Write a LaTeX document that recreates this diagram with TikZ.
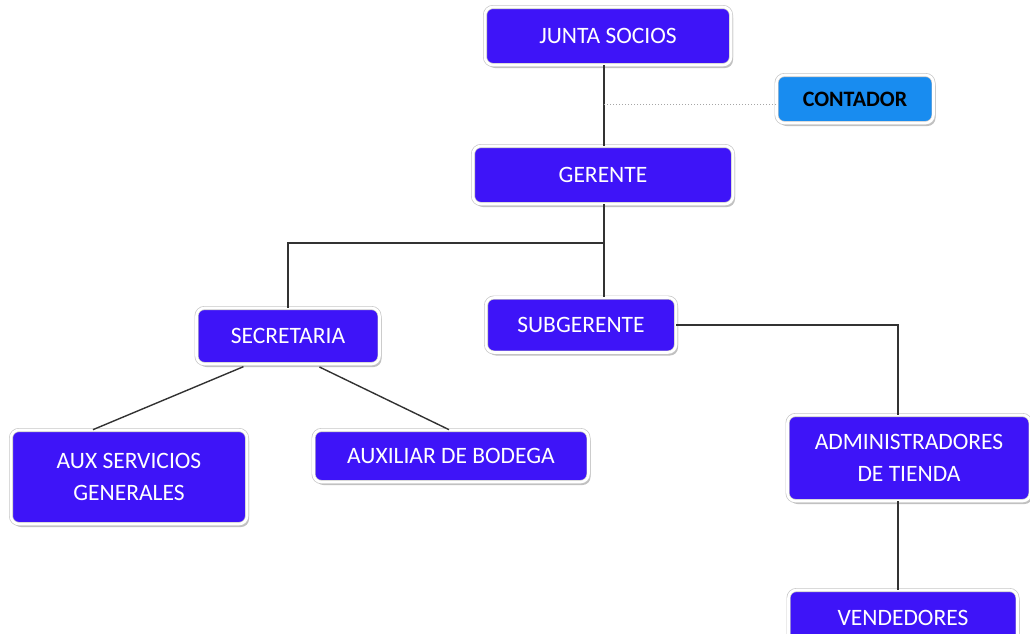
\documentclass[tikz,border=0pt]{standalone}
\usepackage{fontspec}
\setmainfont{Carlito}
\usetikzlibrary{shadows}
\definecolor{boxblue}{RGB}{62,20,248}
\definecolor{lightblue}{RGB}{24,140,240}
\definecolor{wire}{RGB}{50,50,50}
\begin{document}
\begin{tikzpicture}[x=1pt,y=-1pt,
  orgbox/.style={rectangle, rounded corners=8pt, fill=boxblue,
    draw=black!22, line width=0.7pt, double=white, double distance=2.6pt,
    inner sep=0pt,
    text=white, font=\fontsize{23.5}{32}\selectfont, align=center,
    drop shadow={shadow xshift=2pt, shadow yshift=-3pt, fill=black!45, opacity=.55}},
  accbox/.style={orgbox, fill=lightblue, text=black, font=\fontsize{22}{32}\selectfont\bfseries},
  wireline/.style={draw=wire, line width=1.4pt},
  dotline/.style={draw=gray!70, line width=1pt, dotted}
]
\useasboundingbox (0,0) rectangle (1030,633);
\clip (0,0) rectangle (1030,633);

% boxes
\node[orgbox, minimum width=246, minimum height=58] (junta) at (608,36) {JUNTA SOCIOS};
\node[accbox, minimum width=157, minimum height=48] (contador) at (855,99) {CONTADOR};
\node[orgbox, minimum width=260, minimum height=58] (gerente) at (603,175) {GERENTE};
\node[orgbox, minimum width=183, minimum height=56] (secretaria) at (288,336) {SECRETARIA};
\node[orgbox, minimum width=190, minimum height=55] (subgerente) at (581,325) {SUBGERENTE};
\node[orgbox, minimum width=236, minimum height=94] (auxserv) at (129,477) {AUX SERVICIOS\\GENERALES};
\node[orgbox, minimum width=275, minimum height=52] (bodega) at (451,456) {AUXILIAR DE BODEGA};
\node[orgbox, minimum width=243, minimum height=86] (admin) at (909,458) {ADMINISTRADORES\\DE TIENDA};
\node[orgbox, minimum width=229, minimum height=56] (vendedores) at (903,618) {VENDEDORES};

% connectors
\coordinate (spine) at (604,243);
\coordinate (branch) at (898,325);
\draw[wireline] (junta.south -| spine) -- (gerente.north -| spine);
\draw[dotline] (contador.west |- 0,104) -- (spine |- 0,104);
\draw[wireline] (gerente.south -| spine) -- (spine) -| (secretaria.north);
\draw[wireline] (spine) -- (subgerente.north -| spine);
\draw[wireline] (subgerente.east) -- (branch) -- (admin.north -| branch);
\draw[wireline] (admin.south -| branch) -- (vendedores.north -| branch);
\draw[wireline, shorten <=6pt] ([xshift=-39pt]secretaria.south) -- ([xshift=-36pt]auxserv.north);
\draw[wireline, shorten <=6pt] ([xshift=26pt]secretaria.south) -- ([xshift=-2pt]bodega.north);
\end{tikzpicture}
\end{document}
